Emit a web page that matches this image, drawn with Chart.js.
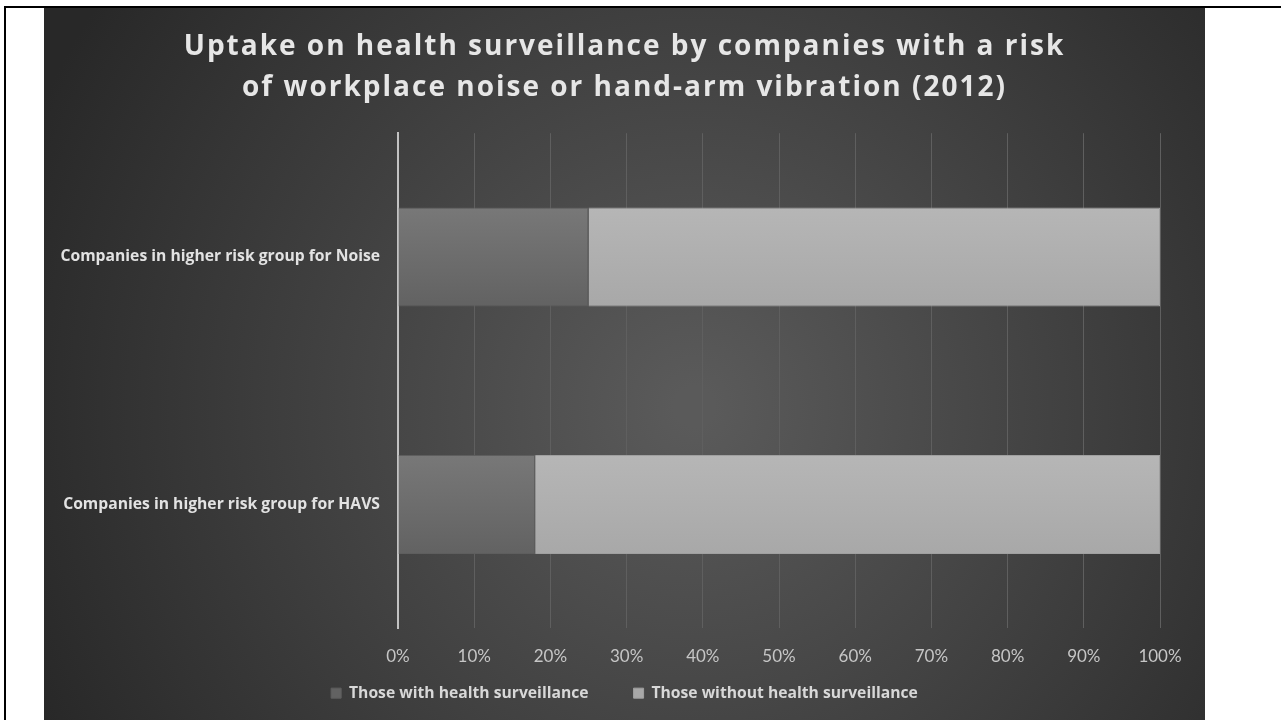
<!DOCTYPE html>
<html>
<head>
<meta charset="utf-8">
<script src="https://cdn.jsdelivr.net/npm/chart.js@4/dist/chart.umd.min.js"></script>
<style>
  html, body { margin: 0; padding: 0; background: #fff; }
  body { width: 1281px; height: 720px; position: relative; overflow: hidden; }
  #topLine { position: absolute; left: 4px; top: 6px; width: 1277px; height: 2px; background: #000; }
  #leftLine { position: absolute; left: 4px; top: 6px; width: 2px; height: 714px; background: #000; }
  #panel { position: absolute; left: 44px; top: 8px; width: 1161px; height: 712px; }
</style>
</head>
<body>
<div id="topLine"></div>
<div id="leftLine"></div>
<div id="panel"><canvas id="uptakeChart"></canvas></div>
<script>
const categories = ['Companies in higher risk group for Noise', 'Companies in higher risk group for HAVS'];
const withSurveillance = [25, 18];
const withoutSurveillance = [75, 82];
const seriesNames = ['Those with health surveillance', 'Those without health surveillance'];
const xTicks = [0, 10, 20, 30, 40, 50, 60, 70, 80, 90, 100];

// dark radial backdrop like the original slide
const backdrop = {
  id: 'backdrop',
  beforeDraw(chart) {
    const { ctx, width, height } = chart;
    const g = ctx.createRadialGradient(width * 0.56, height * 0.56, 20, width * 0.56, height * 0.56, width * 0.62);
    g.addColorStop(0, '#5a5a5a');
    g.addColorStop(1, '#282828');
    ctx.save();
    ctx.fillStyle = g;
    ctx.fillRect(0, 0, width, height);
    ctx.restore();
  }
};

// let tick labels spill outside their (squeezed) axis boxes
function noLabelClip(scale) {
  scale._computeLabelArea = () => undefined;
}

// soft top-to-bottom shading on each bar
function barShade(top, bottom, flat) {
  return (c) => {
    const chart = c.chart;
    if (!chart.chartArea || c.type !== 'data') return flat;
    const y = chart.scales.y.getPixelForValue(c.dataIndex);
    const half = 50;
    const g = chart.ctx.createLinearGradient(0, y - half, 0, y + half);
    g.addColorStop(0, top);
    g.addColorStop(1, bottom);
    return g;
  };
}

function renderUptakeChart() {
  const ctx = document.getElementById('uptakeChart').getContext('2d');
  const chart = new Chart(ctx, {
    type: 'bar',
    data: {
      labels: categories,
      datasets: [{
        label: seriesNames[0],
        data: withSurveillance,
        backgroundColor: barShade('#787878', '#626262', '#6c6c6c'),
        borderColor: '#5e5e5e',
        borderWidth: 1,
        categoryPercentage: 0.8,
        barPercentage: 0.5
      }, {
        label: seriesNames[1],
        data: withoutSurveillance,
        backgroundColor: barShade('#b6b6b6', '#a8a8a8', '#afafaf'),
        borderColor: '#a0a0a0',
        borderWidth: 1,
        categoryPercentage: 0.8,
        barPercentage: 0.5
      }]
    },
    options: {
      indexAxis: 'y',
      responsive: true,
      maintainAspectRatio: false,
      animation: false,
      layout: { padding: { left: 45, right: 45, top: 0, bottom: 9 } },
      scales: {
        x: {
          stacked: true,
          min: 0,
          max: 100,
          afterBuildTicks(scale) { scale.ticks = xTicks.map(v => ({ value: v })); },
          afterFit(scale) { scale.height = 12; noLabelClip(scale); },
          grid: { color: '#5f5f5f', lineWidth: 1, drawTicks: false },
          border: { display: false },
          ticks: {
            color: '#c6c6c6',
            font: { family: 'Lato', size: 17 },
            padding: 18,
            callback: v => v + '%'
          }
        },
        y: {
          stacked: true,
          afterFit(scale) { scale.width = 309; noLabelClip(scale); },
          grid: { display: false, drawTicks: false },
          border: { display: true, color: '#c2c2c2', width: 2 },
          ticks: {
            color: '#e2e2e2',
            font: { family: 'Open Sans', size: 15.7, weight: 'bold' },
            padding: 18
          }
        }
      },
      plugins: {
        title: {
          display: true,
          text: ['Uptake on health surveillance by companies with a risk', 'of workplace noise or hand-arm vibration (2012)'],
          color: '#e6e6e6',
          font: { family: 'Open Sans', size: 28, weight: 'bold', lineHeight: 1.45 },
          padding: { top: 19, bottom: 25 }
        },
        legend: {
          position: 'bottom',
          labels: {
            color: '#d8d8d8',
            font: { family: 'Open Sans', size: 15.7, weight: 'bold' },
            boxWidth: 10,
            boxHeight: 10,
            padding: 45
          }
        },
        tooltip: { enabled: false }
      }
    },
    plugins: [backdrop]
  });

  // the slide title is letter-spaced
  const title = chart.titleBlock;
  const drawTitle = title.draw.bind(title);
  title.draw = function () {
    const c = this.ctx;
    const prev = c.letterSpacing;
    c.letterSpacing = '2px';
    drawTitle();
    c.letterSpacing = prev;
  };
  chart.update('none');
}

renderUptakeChart();
</script>
</body>
</html>
